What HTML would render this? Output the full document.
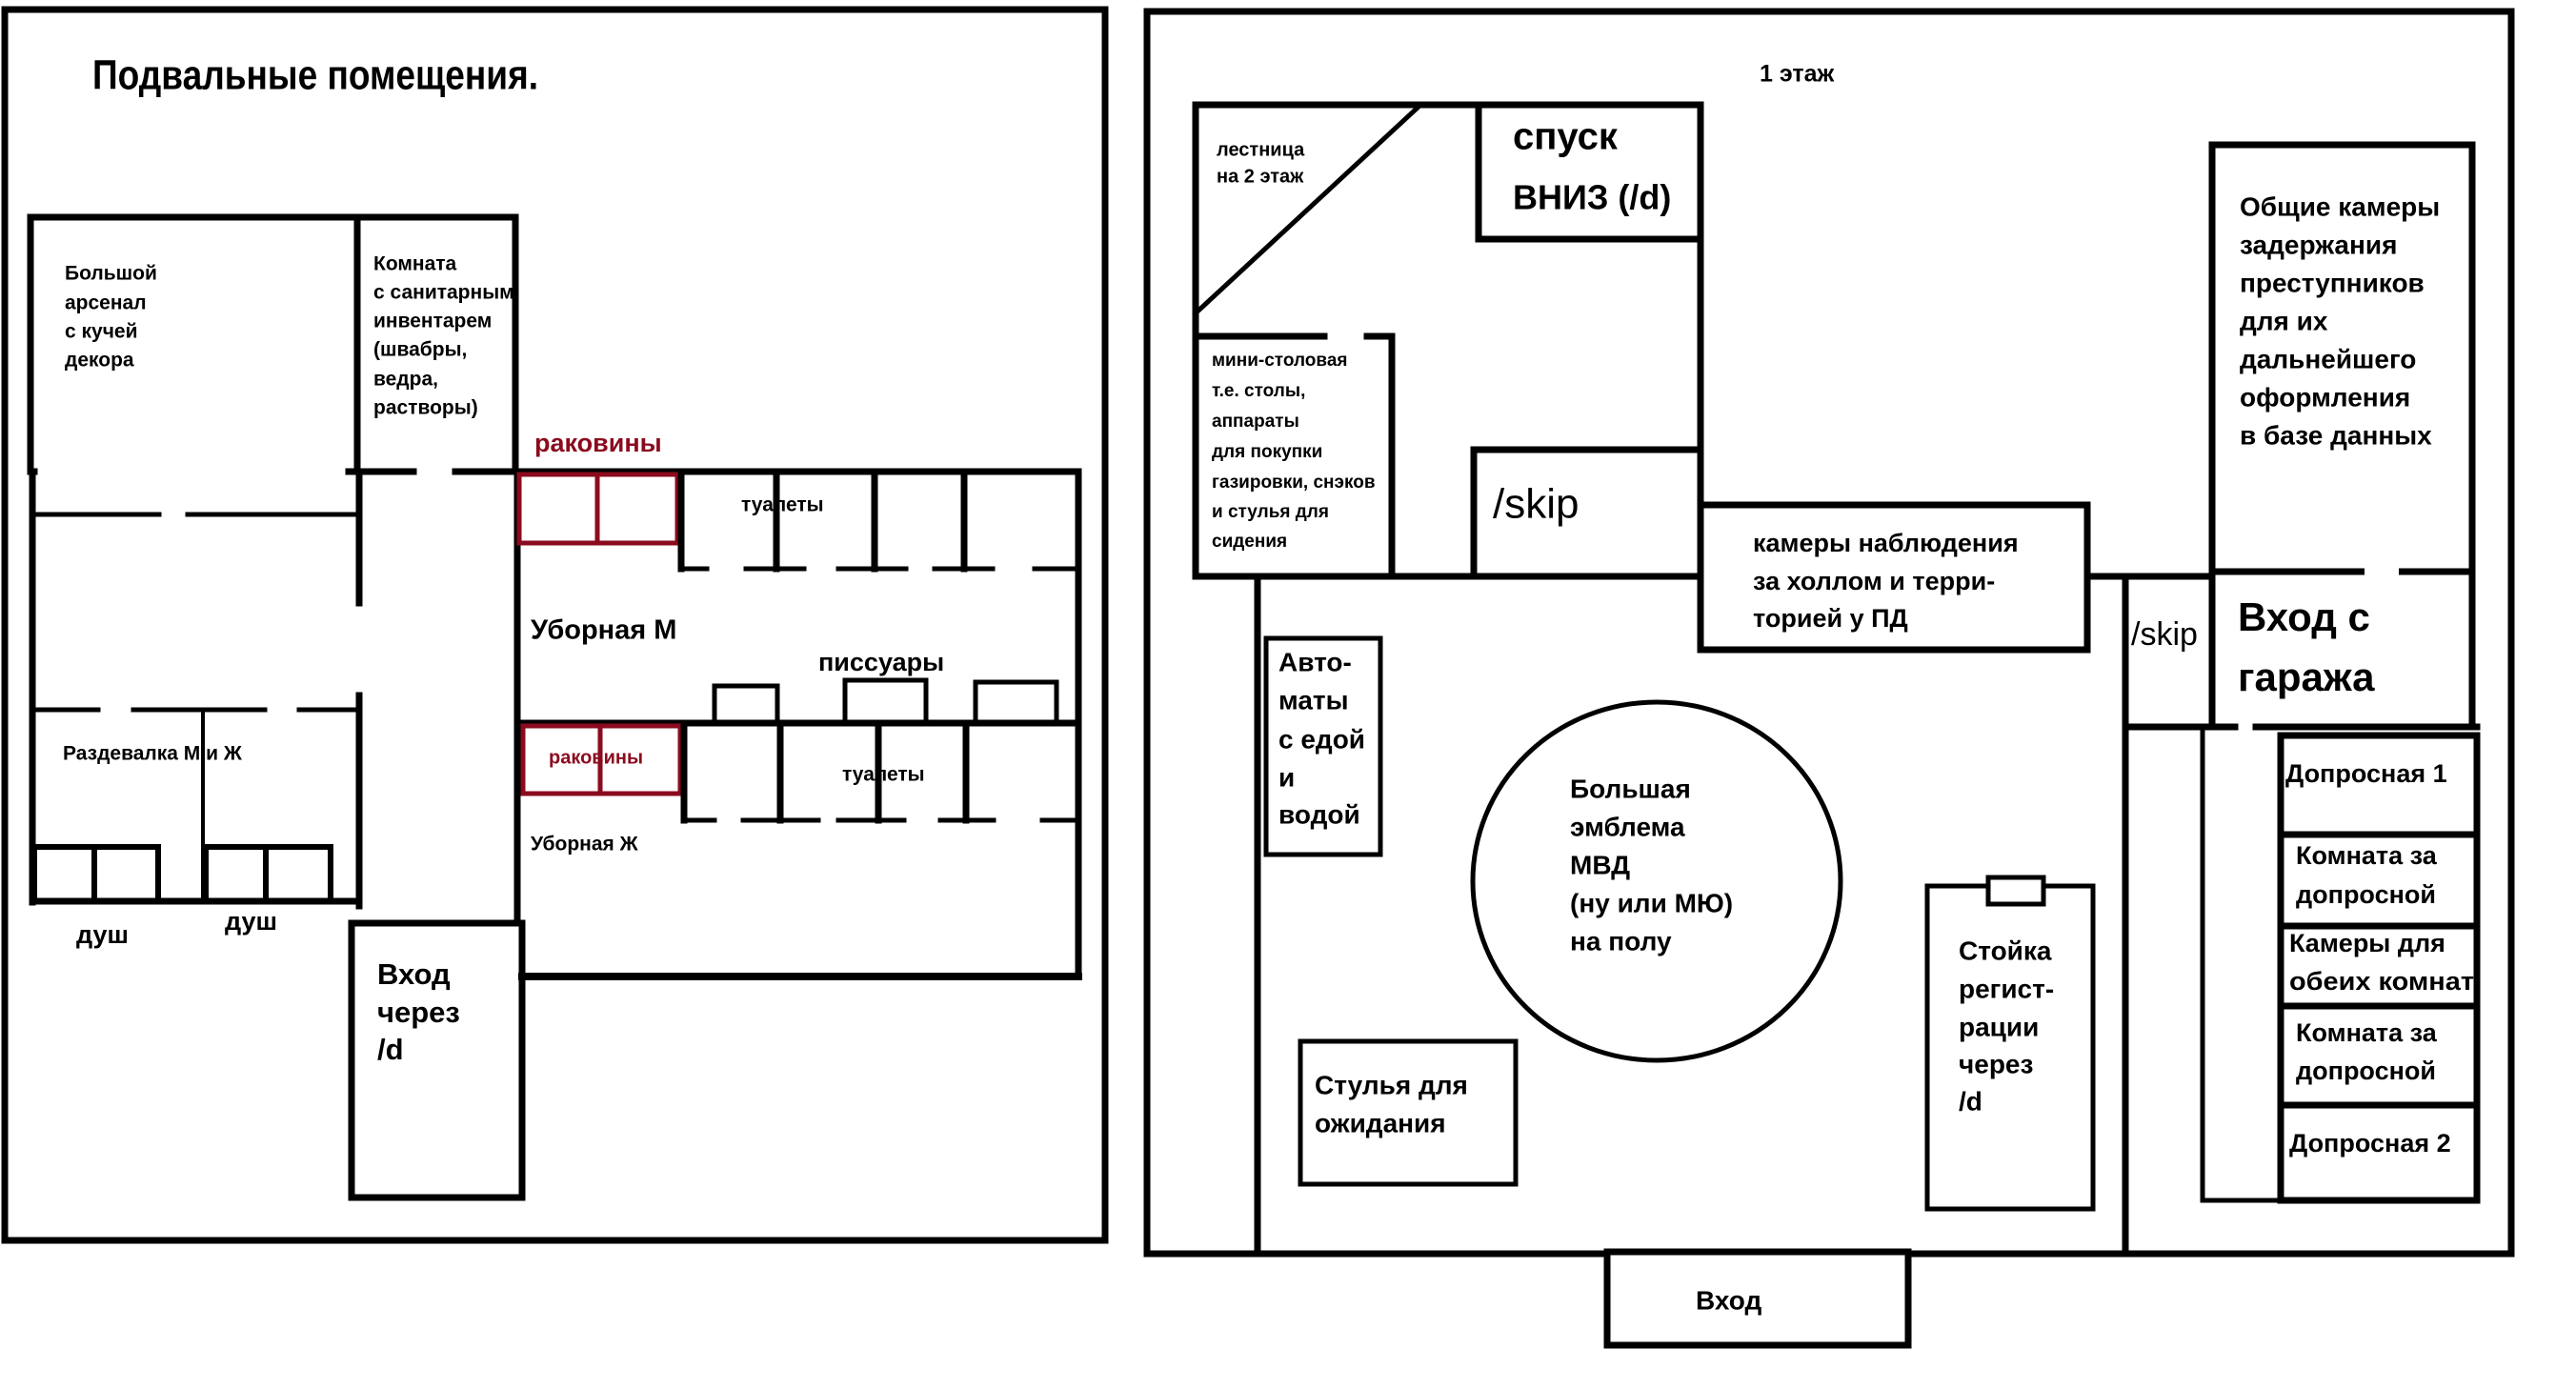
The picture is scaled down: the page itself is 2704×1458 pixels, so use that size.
<!DOCTYPE html>
<html><head><meta charset="utf-8"><style>
html,body{margin:0;padding:0;background:#fff;}
svg{display:block;}
text{font-family:"Liberation Sans","DejaVu Sans",sans-serif;font-weight:bold;fill:#000;dominant-baseline:middle;}
</style></head><body>
<svg width="2704" height="1458" viewBox="0 0 2704 1458" xmlns="http://www.w3.org/2000/svg">
<g stroke="#000" stroke-width="7" fill="none" stroke-linecap="square">
<!-- LEFT PANEL -->
<rect x="5" y="10" width="1155" height="1292"/>
<polyline points="32,495 32,228 541,228 541,495"/>
<line x1="375" y1="228" x2="375" y2="495"/>
<line x1="32" y1="495" x2="36" y2="495"/>
<line x1="366" y1="495" x2="434" y2="495"/>
<line x1="478" y1="495" x2="1132" y2="495"/>
<line x1="34" y1="495" x2="34" y2="947"/>
<line x1="34" y1="540" x2="167" y2="540" stroke-width="5"/>
<line x1="197" y1="540" x2="375" y2="540" stroke-width="5"/>
<line x1="377" y1="495" x2="377" y2="633"/>
<line x1="377" y1="730" x2="377" y2="951"/>
<line x1="34" y1="745" x2="103" y2="745" stroke-width="5"/>
<line x1="140" y1="745" x2="278" y2="745" stroke-width="5"/>
<line x1="314" y1="745" x2="377" y2="745" stroke-width="5"/>
<line x1="213" y1="745" x2="213" y2="947" stroke-width="4"/>
<line x1="34" y1="946" x2="377" y2="946"/>
<rect x="36" y="889" width="63" height="57" stroke-width="6"/>
<rect x="99" y="889" width="67" height="57" stroke-width="6"/>
<rect x="216" y="889" width="63" height="57" stroke-width="6"/>
<rect x="279" y="889" width="68" height="57" stroke-width="6"/>
<line x1="543" y1="495" x2="543" y2="969"/>
<rect x="369" y="969" width="179" height="288"/>
<line x1="1132" y1="495" x2="1132" y2="1025"/>
<line x1="548" y1="1025" x2="1132" y2="1025" stroke-width="8"/>
<line x1="543" y1="759" x2="1132" y2="759"/>
<!-- red sinks -->
<g stroke="#8b0b1e" stroke-width="5">
<rect x="545" y="498" width="166" height="72"/>
<line x1="627" y1="498" x2="627" y2="570"/>
<rect x="549" y="762" width="165" height="71"/>
<line x1="630" y1="762" x2="630" y2="833"/>
</g>
<!-- toilets top -->
<line x1="715" y1="498" x2="715" y2="597"/>
<line x1="815" y1="498" x2="815" y2="597"/>
<line x1="918" y1="498" x2="918" y2="597"/>
<line x1="1012" y1="498" x2="1012" y2="597"/>
<g stroke-width="5">
<line x1="715" y1="597" x2="742" y2="597"/><line x1="783" y1="597" x2="844" y2="597"/>
<line x1="880" y1="597" x2="951" y2="597"/><line x1="981" y1="597" x2="1042" y2="597"/>
<line x1="1086" y1="597" x2="1128" y2="597"/>
</g>
<!-- urinals -->
<rect x="750" y="720" width="66" height="39" stroke-width="5"/>
<rect x="887" y="714" width="85" height="45" stroke-width="5"/>
<rect x="1024" y="716" width="85" height="43" stroke-width="5"/>
<!-- toilets bottom -->
<line x1="718" y1="762" x2="718" y2="861"/>
<line x1="819" y1="762" x2="819" y2="861"/>
<line x1="922" y1="762" x2="922" y2="861"/>
<line x1="1014" y1="762" x2="1014" y2="861"/>
<g stroke-width="5">
<line x1="718" y1="861" x2="750" y2="861"/><line x1="780" y1="861" x2="859" y2="861"/>
<line x1="880" y1="861" x2="949" y2="861"/><line x1="987" y1="861" x2="1043" y2="861"/>
<line x1="1094" y1="861" x2="1131" y2="861"/>
</g>

<!-- RIGHT PANEL -->
<rect x="1204" y="12" width="1432" height="1304"/>
<polyline points="1255,605 1255,110 1785,110 1785,605"/>
<line x1="1488" y1="113" x2="1258" y2="326" stroke-width="5"/>
<rect x="1552" y="110" width="233" height="141"/>
<rect x="1547" y="472" width="238" height="133"/>
<line x1="1258" y1="353" x2="1390" y2="353"/>
<line x1="1435" y1="353" x2="1461" y2="353"/>
<line x1="1461" y1="353" x2="1461" y2="605"/>
<line x1="1255" y1="605" x2="1785" y2="605"/>
<line x1="1320" y1="605" x2="1320" y2="1316"/>
<rect x="1785" y="530" width="406" height="152"/>
<line x1="2191" y1="605" x2="2322" y2="605"/>
<line x1="2231" y1="605" x2="2231" y2="1316"/>
<line x1="2231" y1="763" x2="2322" y2="763"/>
<rect x="2322" y="152" width="273" height="448"/>
<line x1="2322" y1="600" x2="2322" y2="763"/>
<line x1="2595" y1="600" x2="2595" y2="763"/>
<line x1="2322" y1="600" x2="2480" y2="600" stroke="#fff" stroke-width="0"/>
<line x1="2231" y1="763" x2="2346" y2="763"/>
<line x1="2368" y1="763" x2="2600" y2="763"/>
<polyline points="2312,763 2312,1260 2394,1260" stroke-width="5"/>
<rect x="2394" y="772" width="206" height="488"/>
<line x1="2394" y1="876" x2="2600" y2="876"/>
<line x1="2394" y1="972" x2="2600" y2="972"/>
<line x1="2394" y1="1056" x2="2600" y2="1056"/>
<line x1="2394" y1="1160" x2="2600" y2="1160"/>
<rect x="1329" y="670" width="120" height="227" stroke-width="5"/>
<ellipse cx="1739" cy="925" rx="193" ry="188" stroke-width="5"/>
<rect x="1365" y="1093" width="226" height="150" stroke-width="5"/>
<rect x="2023" y="930" width="174" height="339" stroke-width="5"/>
<rect x="2087" y="921" width="58" height="28" stroke-width="5" fill="#fff"/>
<rect x="1687" y="1314" width="316" height="98" fill="#fff"/>
</g>
<!-- gap in garage top -->
<line x1="2482" y1="600" x2="2518" y2="600" stroke="#fff" stroke-width="10"/>

<!-- LEFT TEXT -->
<text x="97" y="82" font-size="44" textLength="468" lengthAdjust="spacingAndGlyphs">Подвальные помещения.</text>
<g font-size="21">
<text x="68" y="288">Большой</text><text x="68" y="319">арсенал</text><text x="68" y="349">с кучей</text><text x="68" y="379">декора</text>
<text x="392" y="278">Комната</text><text x="392" y="308">с санитарным</text><text x="392" y="338">инвентарем</text><text x="392" y="368">(швабры,</text><text x="392" y="399">ведра,</text><text x="392" y="429">растворы)</text>
<text x="66" y="792">Раздевалка М и Ж</text>
<text x="778" y="531">туалеты</text>
<text x="884" y="814">туалеты</text>
<text x="557" y="887">Уборная Ж</text>
</g>
<text x="561" y="467" font-size="27" fill="#8b0b1e" style="fill:#8b0b1e">раковины</text>
<text x="576" y="796" font-size="20" style="fill:#8b0b1e">раковины</text>
<text x="557" y="663" font-size="29">Уборная М</text>
<text x="859" y="697" font-size="27">писсуары</text>
<text x="80" y="983" font-size="27">душ</text>
<text x="236" y="969" font-size="27">душ</text>
<g font-size="31"><text x="396" y="1025">Вход</text><text x="396" y="1065">через</text><text x="396" y="1104">/d</text></g>

<!-- RIGHT TEXT -->
<text x="1847" y="79" font-size="25">1 этаж</text>
<g font-size="20"><text x="1277" y="158">лестница</text><text x="1277" y="186">на 2 этаж</text></g>
<text x="1588" y="146" font-size="40">спуск</text>
<text x="1588" y="210" font-size="36">ВНИЗ (/d)</text>
<text x="1567" y="532" font-size="44" font-weight="normal" style="font-weight:normal">/skip</text>
<g font-size="19"><text x="1272" y="379">мини-столовая</text><text x="1272" y="411">т.е. столы,</text><text x="1272" y="443">аппараты</text><text x="1272" y="475">для покупки</text><text x="1272" y="507">газировки, снэков</text><text x="1272" y="538">и стулья для</text><text x="1272" y="569">сидения</text></g>
<g font-size="27"><text x="1840" y="572">камеры наблюдения</text><text x="1840" y="612">за холлом и терри-</text><text x="1840" y="651">торией у ПД</text></g>
<text x="2237" y="668" font-size="34" style="font-weight:normal">/skip</text>
<g font-size="28"><text x="2351" y="219">Общие камеры</text><text x="2351" y="259">задержания</text><text x="2351" y="299">преступников</text><text x="2351" y="339">для их</text><text x="2351" y="379">дальнейшего</text><text x="2351" y="419">оформления</text><text x="2351" y="459">в базе данных</text></g>
<text x="2349" y="651" font-size="42">Вход с</text><text x="2349" y="714" font-size="42">гаража</text>
<g font-size="27"><text x="2399" y="814">Допросная 1</text><text x="2410" y="900">Комната за</text><text x="2410" y="941">допросной</text><text x="2403" y="992">Камеры для</text><text x="2403" y="1032" textLength="194" lengthAdjust="spacingAndGlyphs">обеих комнат</text><text x="2410" y="1086">Комната за</text><text x="2410" y="1126">допросной</text><text x="2403" y="1202">Допросная 2</text></g>
<g font-size="28"><text x="1342" y="697">Авто-</text><text x="1342" y="737">маты</text><text x="1342" y="778">с едой</text><text x="1342" y="818">и</text><text x="1342" y="857">водой</text></g>
<g font-size="28"><text x="1648" y="830">Большая</text><text x="1648" y="870">эмблема</text><text x="1648" y="910">МВД</text><text x="1648" y="950">(ну или МЮ)</text><text x="1648" y="990">на полу</text></g>
<g font-size="28"><text x="1380" y="1141">Стулья для</text><text x="1380" y="1181">ожидания</text></g>
<g font-size="28"><text x="2056" y="1000">Стойка</text><text x="2056" y="1040">регист-</text><text x="2056" y="1080">рации</text><text x="2056" y="1119">через</text><text x="2056" y="1158">/d</text></g>
<text x="1780" y="1367" font-size="28">Вход</text>
</svg>
</body></html>
